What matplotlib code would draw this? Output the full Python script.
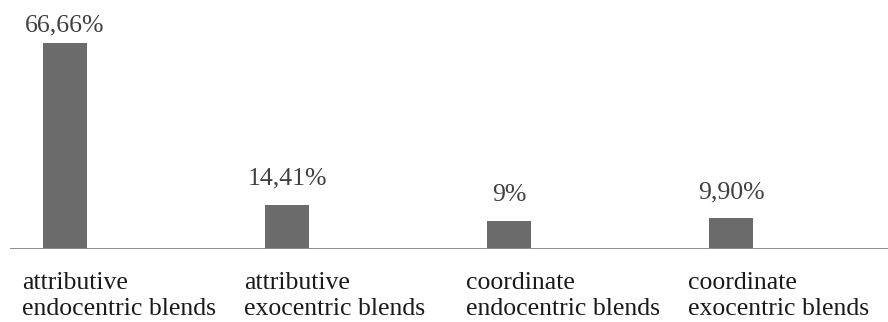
import matplotlib
matplotlib.use('Agg')
import matplotlib.pyplot as plt
import numpy as np

# blend types and their share of the corpus (percent)
cat_line1 = ['attributive', 'attributive', 'coordinate', 'coordinate']
cat_line2 = ['endocentric blends', 'exocentric blends',
             'endocentric blends', 'exocentric blends']
shares = [66.66, 14.41, 9.0, 9.90]
share_labels = ['66,66%', '14,41%', '9%', '9,90%']

plt.rcParams['font.family'] = ['Liberation Serif', 'DejaVu Serif']

W, H = 888, 322
fig = plt.figure(figsize=(W / 100, H / 100), dpi=100)
base = 249  # baseline row in pixels from the top
ax = fig.add_axes([10 / W, 1 - base / H, 1 - 10 / W, 232 / H])

x = np.arange(len(shares))
ax.bar(x, shares, width=0.2, color='#6b6b6b', zorder=2)
ax.set_xlim(-0.248, 3.707)
ax.set_ylim(0, 75.2)

# value labels ~20px above each bar, kept inside the plot area
px_per_unit = 232 / 75.2
top_limit = (base - 31) / px_per_unit
for xi, v, lab in zip(x, shares, share_labels):
    ly = min(v + 20 / px_per_unit, top_limit)
    ax.text(xi, ly, lab, ha='center', va='baseline', fontsize=18.5,
            color='#404040')

# category names under the baseline, left aligned, two lines
for xi, l1, l2 in zip(x, cat_line1, cat_line2):
    ax.annotate(l1, (xi - 0.195, 0), xytext=(0, -40), textcoords='offset pixels',
                ha='left', va='baseline', fontsize=18.5, color='#1a1a1a')
    ax.annotate(l2, (xi - 0.195, 0), xytext=(0, -66), textcoords='offset pixels',
                ha='left', va='baseline', fontsize=18.5, color='#1a1a1a')

ax.axhline(0, color='#8c8c8c', linewidth=1.4, zorder=3)
for s in ax.spines.values():
    s.set_visible(False)
ax.set_xticks([])
ax.set_yticks([])

fig.savefig('out.png', dpi=100)
